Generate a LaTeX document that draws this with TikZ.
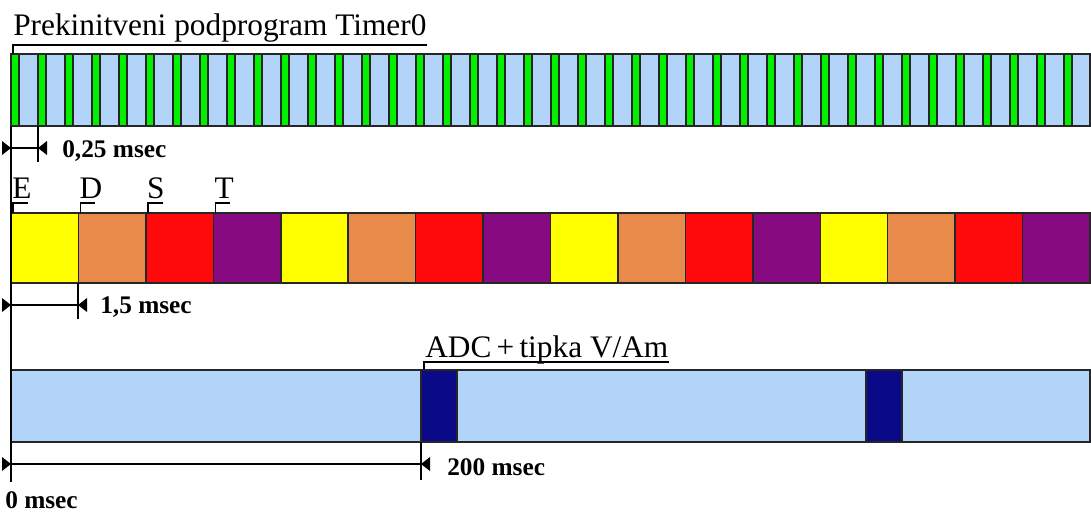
\documentclass[tikz,border=0pt]{standalone}
\usepackage{fontspec}
\setmainfont{Liberation Serif}
\newlength{\du}
\setlength{\du}{0.75pt}
\definecolor{barblue}{RGB}{178,212,248}
\definecolor{tickgreen}{RGB}{0,240,0}
\definecolor{segyellow}{RGB}{255,255,0}
\definecolor{segorange}{RGB}{232,138,74}
\definecolor{segred}{RGB}{255,10,10}
\definecolor{segpurple}{RGB}{136,10,128}
\definecolor{adcblue}{RGB}{10,10,136}
% arrow tips of the time marks, tip on the coordinate
\newcommand{\tipin}[1]{\fill #1 -- ++(-9,-7) -- ++(0,14) -- cycle;}
\newcommand{\tipback}[1]{\fill #1 -- ++(9,-7) -- ++(0,14) -- cycle;}

\begin{document}
\begin{tikzpicture}[x=\du,y=-\du,
  bar/.style={draw=black!85,line width=1.5\du},
  bracket/.style={draw=black,line width=1.4\du},
  dimline/.style={draw=black,line width=1.6\du},
  lbl/.style={inner sep=0pt,anchor=base west,font=\fontsize{23.5}{26}\selectfont},
  dimlbl/.style={inner sep=0pt,anchor=base west,font=\fontsize{19}{22}\selectfont\bfseries}]
\useasboundingbox (0,0) rectangle (1091,512);

% Timer0
\draw[bar,fill=barblue] (11,54) rectangle (1090,126);
\foreach \k in {0,...,39}
  \draw[bar,fill=tickgreen] ({11+27*\k},54) rectangle ({19+27*\k},126);
\node[lbl] (timer) at (13,35) {Prekinitveni podprogram Timer0};
\draw[bracket] (13,54) -- (13,45) -- (timer.east |- 0,45);

% E D S T
\foreach \c [count=\i from 0] in {segyellow,segorange,segred,segpurple,
    segyellow,segorange,segred,segpurple,segyellow,segorange,segred,segpurple,
    segyellow,segorange,segred,segpurple}
  \draw[bar,fill=\c] ({11+67.44*\i},213) rectangle ({11+67.44*(\i+1)},283);
\foreach \t [count=\i from 0] in {E,D,S,T} {
  \node[lbl] (seg\t) at ({12+67.44*\i},198) {\t};
  \draw[bracket] ({13+67.44*\i},213) -- ++(0,-10) -- ++(15,0);
}

% ADC
\draw[bar,fill=barblue] (11,370) rectangle (1090,442);
\draw[bar,fill=adcblue] (421,370) rectangle (457,442);
\draw[bar,fill=adcblue] (866,370) rectangle (902,442);
\node[lbl] (adc) at (425,357) {ADC\,+\,tipka V/Am};
\draw[bracket] (424,370) -- (424,362) -- (adc.east |- 0,362);

% time marks
\coordinate (zero) at (11,126);
\coordinate (zeroend) at (11,482);
\draw[dimline] (zero) -- (zeroend);

\coordinate (a1) at (11,148);
\coordinate (b1) at (38,148);
\draw[dimline] (a1) -- (b1);
\draw[dimline] (38,126) -- (38,162);
\tipin{(a1)}
\tipback{(b1)}
\node[dimlbl] (t1) at (62,157) {0,25 msec};

\coordinate (a2) at (11,305);
\coordinate (b2) at (78,305);
\draw[dimline] (a2) -- (b2);
\draw[dimline] (78,283) -- (78,319);
\tipin{(a2)}
\tipback{(b2)}
\node[dimlbl] (t2) at (100,313) {1,5 msec};

\coordinate (a3) at (11,464);
\coordinate (b3) at (421,464);
\draw[dimline] (a3) -- (b3);
\draw[dimline] (421,442) -- (421,480);
\tipin{(a3)}
\tipback{(b3)}
\node[dimlbl] (t3) at (447,475) {200 msec};

\node[dimlbl] (t0) at (5,508) {0 msec};
\end{tikzpicture}
\end{document}
